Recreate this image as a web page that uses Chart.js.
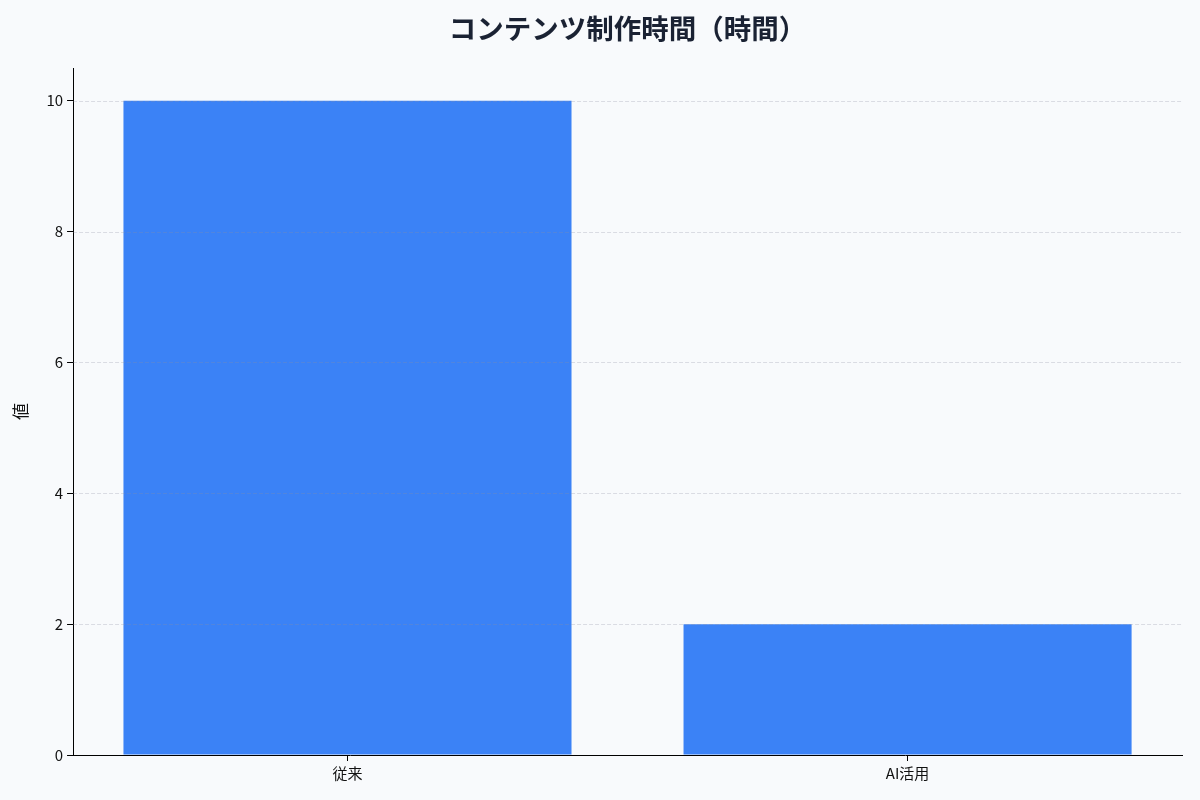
<!DOCTYPE html>
<html>
<head>
<meta charset="utf-8">
<script src="https://cdn.jsdelivr.net/npm/chart.js@4.4.1/dist/chart.umd.min.js"></script>
<style>
  html, body { margin: 0; padding: 0; background: #f8fafc; }
  #wrap { width: 1200px; height: 800px; }
</style>
</head>
<body>
<div id="wrap"><canvas id="chart"></canvas></div>
<script>
// data
const categories = ['従来', 'AI活用'];
const hours = [10, 2];
const yTicks = [0, 2, 4, 6, 8, 10];
const chartTitle = 'コンテンツ制作時間（時間）';
const yTitle = '値';

const FONT = "'Noto Sans CJK JP', 'Noto Sans', sans-serif";

// title centred over the plot area, like the original
const plotTitle = {
  id: 'plotTitle',
  afterDraw(chart) {
    const { ctx, chartArea } = chart;
    ctx.save();
    ctx.fillStyle = '#1a2233';
    ctx.font = `bold 27.5px ${FONT}`;
    ctx.textAlign = 'center';
    ctx.textBaseline = 'middle';
    ctx.fillText(chartTitle, (chartArea.left + chartArea.right) / 2, 29);
    ctx.restore();
  }
};

// dashed y grid drawn over the bars (the original has the grid on top)
const gridOnTop = {
  id: 'gridOnTop',
  afterDatasetsDraw(chart) {
    const { ctx, chartArea, scales } = chart;
    const y = scales.y;
    ctx.save();
    ctx.strokeStyle = 'rgba(140, 145, 160, 0.28)';
    ctx.lineWidth = 1;
    ctx.setLineDash([4, 2]);
    y.ticks.forEach(t => {
      if (t.value === 0) return;
      const py = Math.round(y.getPixelForValue(t.value)) + 0.5;
      ctx.beginPath();
      ctx.moveTo(chartArea.left, py);
      ctx.lineTo(chartArea.right, py);
      ctx.stroke();
    });
    ctx.restore();
  }
};

new Chart(document.getElementById('chart'), {
  type: 'bar',
  data: {
    datasets: [{
      label: yTitle,
      data: hours.map((v, i) => ({ x: i, y: v })),
      backgroundColor: '#3b82f6',
      borderWidth: 0,
      categoryPercentage: 1,
      barPercentage: 0.8
    }]
  },
  options: {
    responsive: true,
    maintainAspectRatio: false,
    animation: false,
    layout: { padding: { left: 10, right: 18, top: 68, bottom: 15 } },
    plugins: {
      legend: { display: false },
      tooltip: { enabled: false },
      title: { display: false }
    },
    scales: {
      x: {
        type: 'linear',
        min: -0.49,
        max: 1.49,
        offset: false,
        afterBuildTicks: (axis) => {
          axis.ticks = categories.map((c, i) => ({ value: i }));
        },
        grid: {
          offset: false,
          color: 'transparent',
          tickColor: '#000',
          tickLength: 6,
          drawOnChartArea: false
        },
        border: { display: true, color: '#000', width: 1 },
        ticks: {
          color: '#111',
          padding: 3,
          font: { family: FONT, size: 15 },
          callback: (v) => categories[v]
        }
      },
      y: {
        min: 0,
        max: 10.5,
        afterBuildTicks: (axis) => {
          axis.ticks = yTicks.map(v => ({ value: v }));
        },
        grid: {
          drawOnChartArea: false,
          tickColor: '#000',
          tickLength: 6
        },
        border: { display: true, color: '#000', width: 1 },
        ticks: {
          color: '#111',
          padding: 4,
          font: { family: FONT, size: 15 }
        },
        title: {
          display: true,
          text: yTitle,
          color: '#111',
          font: { family: FONT, size: 17 },
          padding: { top: 0, bottom: 12 }
        }
      }
    }
  },
  plugins: [gridOnTop, plotTitle]
});
</script>
</body>
</html>
